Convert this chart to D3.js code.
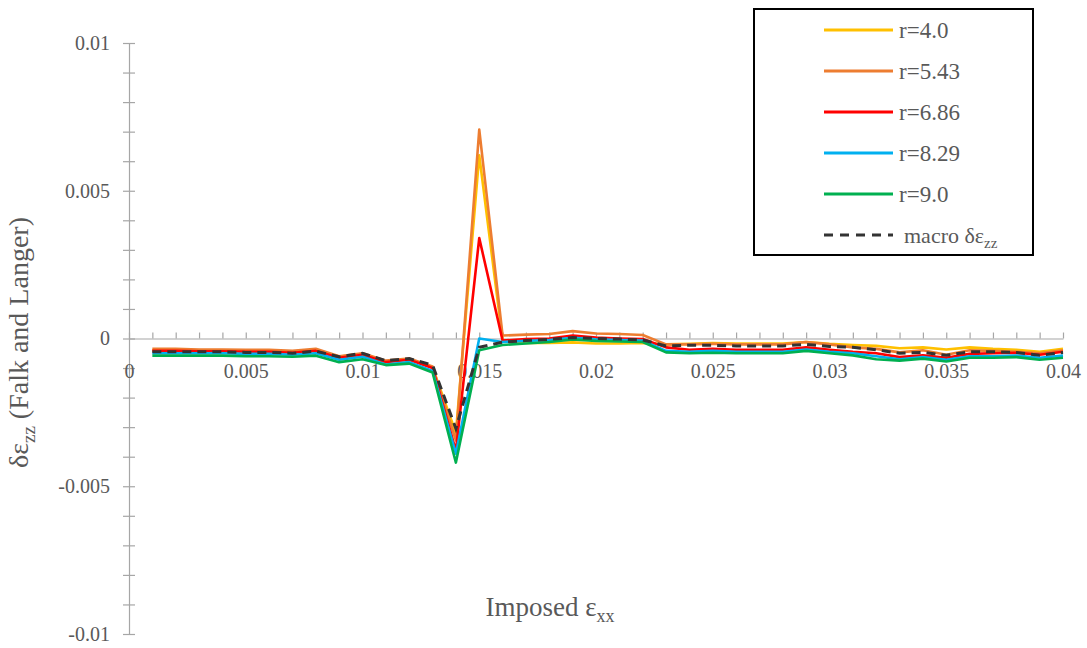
<!DOCTYPE html>
<html>
<head>
<meta charset="utf-8">
<script src="https://cdn.jsdelivr.net/npm/d3@7"></script>
<style>
  body { margin: 0; background: #fff; }
  svg text { font-family: "Liberation Serif", "DejaVu Serif", serif; fill: #595959; }
</style>
</head>
<body onload="main()">
<svg width="1087" height="648"></svg>
<script>
// imposed strain, x values
const strains = [0.001, 0.002, 0.003, 0.004, 0.005, 0.006, 0.007, 0.008, 0.009, 0.010,
    0.011, 0.012, 0.013, 0.014, 0.015, 0.016, 0.017, 0.018, 0.019, 0.020,
    0.021, 0.022, 0.023, 0.024, 0.025, 0.026, 0.027, 0.028, 0.029, 0.030,
    0.031, 0.032, 0.033, 0.034, 0.035, 0.036, 0.037, 0.038, 0.039, 0.040];

const seriesNames = ['r=4.0', 'r=5.43', 'r=6.86', 'r=8.29', 'r=9.0'];

const r40 = [-0.00040, -0.00040, -0.00040, -0.00040, -0.00042, -0.00042, -0.00045, -0.00040, -0.00062, -0.00052,
    -0.00078, -0.00070, -0.00098, -0.00320, 0.00620, -0.00005, -0.00015, -0.00015, -0.00013, -0.00017,
    -0.00017, -0.00015, -0.00020, -0.00018, -0.00015, -0.00017, -0.00017, -0.00017, -0.00012, -0.00018,
    -0.00022, -0.00025, -0.00033, -0.00030, -0.00037, -0.00030, -0.00035, -0.00038, -0.00045, -0.00035];

const r543 = [-0.00035, -0.00035, -0.00037, -0.00037, -0.00038, -0.00038, -0.00042, -0.00035, -0.00060, -0.00050,
    -0.00075, -0.00068, -0.00095, -0.00345, 0.00707, 0.00010, 0.00013, 0.00015, 0.00025, 0.00017,
    0.00015, 0.00012, -0.00020, -0.00020, -0.00018, -0.00020, -0.00020, -0.00020, -0.00012, -0.00020,
    -0.00030, -0.00035, -0.00047, -0.00040, -0.00055, -0.00040, -0.00042, -0.00045, -0.00050, -0.00040];

const r686 = [-0.00042, -0.00042, -0.00043, -0.00043, -0.00045, -0.00045, -0.00048, -0.00042, -0.00065, -0.00055,
    -0.00080, -0.00072, -0.00100, -0.00380, 0.00340, -0.00007, -0.00002, 0.00000, 0.00010, 0.00003,
    0.00000, -0.00002, -0.00030, -0.00038, -0.00035, -0.00038, -0.00038, -0.00038, -0.00030, -0.00038,
    -0.00045, -0.00050, -0.00063, -0.00057, -0.00065, -0.00052, -0.00050, -0.00048, -0.00055, -0.00045];

const r829 = [-0.00050, -0.00050, -0.00050, -0.00050, -0.00052, -0.00052, -0.00055, -0.00050, -0.00072, -0.00062,
    -0.00088, -0.00080, -0.00110, -0.00390, 0.00000, -0.00012, -0.00008, -0.00005, 0.00002, -0.00003,
    -0.00005, -0.00007, -0.00042, -0.00045, -0.00042, -0.00045, -0.00045, -0.00045, -0.00037, -0.00045,
    -0.00050, -0.00060, -0.00070, -0.00063, -0.00072, -0.00060, -0.00060, -0.00058, -0.00065, -0.00058];

const r90 = [-0.00058, -0.00058, -0.00058, -0.00058, -0.00060, -0.00060, -0.00062, -0.00058, -0.00080, -0.00070,
    -0.00090, -0.00085, -0.00115, -0.00420, -0.00040, -0.00022, -0.00017, -0.00012, -0.00003, -0.00008,
    -0.00010, -0.00012, -0.00047, -0.00050, -0.00048, -0.00050, -0.00050, -0.00050, -0.00042, -0.00050,
    -0.00057, -0.00070, -0.00075, -0.00068, -0.00078, -0.00065, -0.00065, -0.00063, -0.00072, -0.00065];

// macroscopic prediction, dashed
const macro = [-0.00045, -0.00045, -0.00045, -0.00045, -0.00047, -0.00047, -0.00050, -0.00043, -0.00062, -0.00050,
    -0.00075, -0.00068, -0.00090, -0.00305, -0.00030, -0.00012, -0.00007, -0.00003, 0.00003, 0.00000,
    -0.00002, -0.00005, -0.00025, -0.00023, -0.00023, -0.00025, -0.00025, -0.00025, -0.00020, -0.00027,
    -0.00030, -0.00038, -0.00050, -0.00047, -0.00057, -0.00045, -0.00045, -0.00047, -0.00057, -0.00047];

const yTickValues = [-0.01, -0.009, -0.008, -0.007, -0.006, -0.005, -0.004, -0.003, -0.002, -0.001, 0,
    0.001, 0.002, 0.003, 0.004, 0.005, 0.006, 0.007, 0.008, 0.009, 0.01];
const xTickValues = [0, 0.001, 0.002, 0.003, 0.004, 0.005, 0.006, 0.007, 0.008, 0.009, 0.01,
    0.011, 0.012, 0.013, 0.014, 0.015, 0.016, 0.017, 0.018, 0.019, 0.02,
    0.021, 0.022, 0.023, 0.024, 0.025, 0.026, 0.027, 0.028, 0.029, 0.03,
    0.031, 0.032, 0.033, 0.034, 0.035, 0.036, 0.037, 0.038, 0.039, 0.04];

function main() {
    const svg = d3.select('svg');
    const axisColor = '#a6a6a6';
    const serif = '"Liberation Serif", "DejaVu Serif", serif';
    const colors = ['#ffc000', '#ed7d31', '#ff0000', '#00b0f0', '#00b050'];
    const allSeries = [r40, r543, r686, r829, r90];

    const xScale = d3.scaleLinear().domain([0, 0.04]).range([129, 1063]);
    const yScale = d3.scaleLinear().domain([-0.01, 0.01]).range([634, 43]);

    // only every fifth tick gets a label
    function isMajor(d) { return Math.round(d * 1000) % 5 === 0; }
    function fmt(d) {
        if (Math.abs(d) < 1e-9) return '0';
        return String(+d.toFixed(3));
    }

    /** y axis, ticks cross the line */
    const yAxis = svg.append('g')
        .attr('transform', 'translate(' + xScale(0) + ',0)')
        .call(d3.axisLeft(yScale).tickValues(yTickValues).tickSize(5).tickPadding(14)
            .tickFormat(function (d) { return isMajor(d) ? fmt(d) : ''; }));
    yAxis.selectAll('.tick line').attr('x1', -6).attr('x2', 6);

    /** x axis sits at y = 0 with ticks pointing up */
    const xAxis = svg.append('g')
        .attr('transform', 'translate(0,' + yScale(0) + ')')
        .call(d3.axisBottom(xScale).tickValues(xTickValues).tickSizeInner(-6).tickSizeOuter(0).tickPadding(25)
            .tickFormat(function (d) { return isMajor(d) ? fmt(d) : ''; }));

    [yAxis, xAxis].forEach(function (ax) {
        ax.attr('font-family', serif);
        ax.select('.domain').attr('stroke', axisColor).attr('stroke-width', 1.2);
        ax.selectAll('.tick line').attr('stroke', axisColor).attr('stroke-width', 1.2);
        ax.selectAll('.tick text').attr('font-size', 20).style('fill', '#595959');
    });

    const line = d3.line()
        .x(function (d, i) { return xScale(strains[i]); })
        .y(function (d) { return yScale(d); });

    allSeries.forEach(function (s, k) {
        svg.append('path')
            .datum(s)
            .attr('fill', 'none')
            .attr('stroke', colors[k])
            .attr('stroke-width', 2.6)
            .attr('stroke-linejoin', 'round')
            .attr('d', line);
    });

    svg.append('path')
        .datum(macro)
        .attr('fill', 'none')
        .attr('stroke', '#333333')
        .attr('stroke-width', 3)
        .attr('stroke-dasharray', '9,6')
        .attr('d', line);

    /** axis titles */
    const yt = svg.append('text')
        .attr('transform', 'translate(28,' + (yScale(0) + 4) + ') rotate(-90)')
        .attr('text-anchor', 'middle')
        .attr('font-size', 28);
    yt.append('tspan').text('δε');
    yt.append('tspan').attr('font-size', 19).attr('dy', 7).text('zz');
    yt.append('tspan').attr('dy', -7).text(' (Falk and Langer)');

    const xt = svg.append('text')
        .attr('x', 550)
        .attr('y', 616)
        .attr('text-anchor', 'middle')
        .attr('font-size', 27);
    xt.append('tspan').text('Imposed ε');
    xt.append('tspan').attr('font-size', 18).attr('dy', 6).text('xx');

    /** legend */
    const legend = svg.append('g');
    legend.append('rect')
        .attr('x', 754).attr('y', 9)
        .attr('width', 279).attr('height', 246)
        .attr('fill', '#fff')
        .attr('stroke', '#000')
        .attr('stroke-width', 2);

    seriesNames.forEach(function (name, k) {
        const yy = 30 + k * 41;
        legend.append('line')
            .attr('x1', 824).attr('x2', 893)
            .attr('y1', yy).attr('y2', yy)
            .attr('stroke', colors[k])
            .attr('stroke-width', 3);
        legend.append('text')
            .attr('x', 899).attr('y', yy + 8)
            .attr('font-size', 23)
            .text(name);
    });

    const my = 30 + 5 * 41;
    legend.append('line')
        .attr('x1', 824).attr('x2', 893)
        .attr('y1', my).attr('y2', my)
        .attr('stroke', '#333333')
        .attr('stroke-width', 3)
        .attr('stroke-dasharray', '9,7');
    const mt = legend.append('text')
        .attr('x', 904).attr('y', my + 8)
        .attr('font-size', 22);
    mt.append('tspan').text('macro δε');
    mt.append('tspan').attr('font-size', 15).attr('dy', 5).text('zz');
}
</script>
</body>
</html>
